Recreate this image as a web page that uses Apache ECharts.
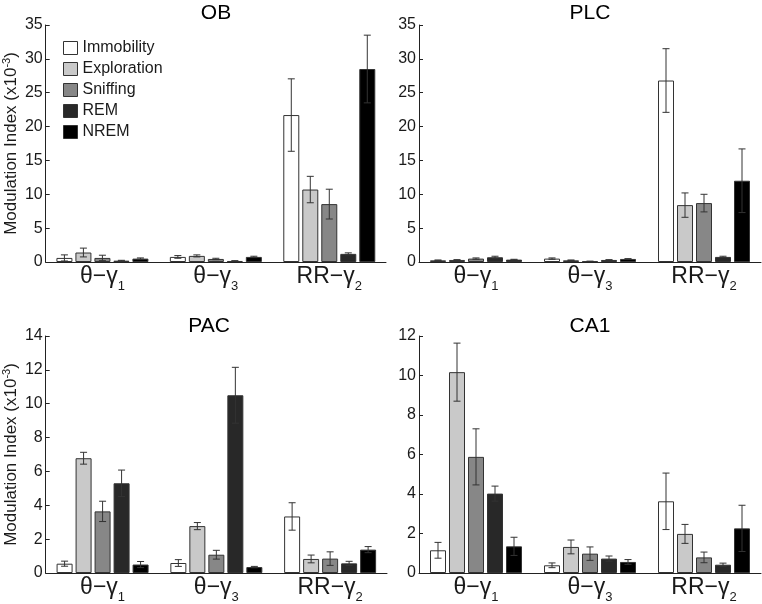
<!DOCTYPE html>
<html><head><meta charset="utf-8">
<script src="https://cdn.jsdelivr.net/npm/echarts@6/dist/echarts.min.js"></script>
<style>html,body{margin:0;padding:0;background:#fff}#c{width:762px;height:604px}</style>
</head><body><div id="c"></div>
<script>
// ---- data ----
const states = ['Immobility', 'Exploration', 'Sniffing', 'REM', 'NREM'];
const stateColors = ['#ffffff', '#c9c9c9', '#878787', '#282828', '#000000'];
const catMain = ['θ−γ', 'θ−γ', 'RR−γ'];
const catSub = ['1', '3', '2'];
const panelTitles = ['OB', 'PLC', 'PAC', 'CA1'];
const yMax = [35, 35, 14, 12];
const yStep = [5, 5, 2, 2];

// rows: Immobility, Exploration, Sniffing, REM, NREM ; cols: θ-γ1, θ-γ3, RR-γ2
const obMeans = [[0.6, 0.75, 21.7], [1.4, 0.9, 10.7], [0.6, 0.45, 8.55], [0.2, 0.15, 1.2], [0.5, 0.75, 28.5]];
const obErrs  = [[0.45, 0.2, 5.35], [0.65, 0.15, 1.95], [0.4, 0.1, 2.2], [0.05, 0.05, 0.15], [0.1, 0.1, 5.0]];
const plcMeans = [[0.25, 0.5, 26.8], [0.3, 0.25, 8.4], [0.5, 0.1, 8.7], [0.7, 0.3, 0.75], [0.35, 0.45, 12.0]];
const plcErrs  = [[0.05, 0.1, 4.7], [0.05, 0.05, 1.8], [0.1, 0.03, 1.3], [0.15, 0.05, 0.1], [0.05, 0.05, 4.7]];
const pacMeans = [[0.55, 0.59, 3.34], [6.78, 2.77, 0.83], [3.64, 1.08, 0.85], [5.3, 10.5, 0.57], [0.5, 0.35, 1.38]];
const pacErrs  = [[0.15, 0.2, 0.81], [0.35, 0.21, 0.23], [0.6, 0.26, 0.4], [0.78, 1.65, 0.12], [0.18, 0.04, 0.18]];
const ca1Means = [[1.15, 0.39, 3.63], [10.17, 1.32, 1.98], [5.88, 0.98, 0.79], [4.02, 0.73, 0.42], [1.35, 0.56, 2.26]];
const ca1Errs  = [[0.4, 0.12, 1.43], [1.47, 0.35, 0.48], [1.42, 0.34, 0.27], [0.38, 0.13, 0.08], [0.46, 0.12, 1.17]];

const panelMeans = [obMeans, plcMeans, pacMeans, ca1Means];
const panelErrs = [obErrs, plcErrs, pacErrs, ca1Errs];

// ---- layout / style ----
const FONT = '"Liberation Sans", Arial, sans-serif';
const TXT = '#1a1a1a';
const AX = '#222';
const grids = [
  {left: 44, top: 25, width: 342, height: 237},
  {left: 419, top: 25, width: 342, height: 237},
  {left: 45, top: 336, width: 342, height: 237},
  {left: 419, top: 336, width: 342, height: 237}
];
const titlePos = [[216, 3], [590, 3], [209, 316], [590, 316]];
const BAR_W = 16;
const BAR_GAP = 0.1875;
const PITCH = BAR_W * (1 + BAR_GAP);

const chart = echarts.init(document.getElementById('c'), null, {renderer: 'canvas'});

const xAxes = [], yAxes = [], series = [], titles = [];
for (let p = 0; p < 4; p++) {
  titles.push({
    text: panelTitles[p], left: titlePos[p][0], top: titlePos[p][1], textAlign: 'center', padding: 0,
    textStyle: {fontFamily: FONT, fontSize: 21, fontWeight: 'normal', color: '#000'}
  });
  xAxes.push({
    type: 'category', gridIndex: p, data: catMain.map((m, k) => m + '|' + catSub[k]),
    axisLine: {lineStyle: {color: AX, width: 1}}, axisTick: {show: false},
    axisLabel: {
      margin: 3, interval: 0,
      formatter: v => { const s = v.split('|'); return '{m|' + s[0] + '}{s|' + s[1] + '}'; },
      rich: {
        m: {fontFamily: FONT, fontSize: 23, lineHeight: 23, color: TXT, verticalAlign: 'top'},
        s: {fontFamily: FONT, fontSize: 13, lineHeight: 13, color: TXT, verticalAlign: 'top', padding: [15, 0, 0, 0]}
      }
    }
  });
  const left = (p % 2 === 0);
  yAxes.push({
    type: 'value', gridIndex: p, min: 0, max: yMax[p], interval: yStep[p],
    name: left ? 'Modulation Index (x10{sup|-3})' : '',
    nameLocation: 'middle', nameGap: 23, nameRotate: 90,
    nameTextStyle: {
      fontFamily: FONT, fontSize: 17, color: TXT, lineHeight: 20,
      rich: {sup: {fontFamily: FONT, fontSize: 11, lineHeight: 11, verticalAlign: 'top', color: TXT}}
    },
    axisLine: {show: true, lineStyle: {color: AX, width: 1}},
    axisTick: {show: true, inside: true, length: 4, lineStyle: {color: AX}},
    axisLabel: {margin: 3, fontFamily: FONT, fontSize: 16, color: TXT},
    splitLine: {show: false}
  });
  for (let i = 0; i < states.length; i++) {
    series.push({
      type: 'bar', name: states[i], xAxisIndex: p, yAxisIndex: p,
      data: panelMeans[p][i], barWidth: BAR_W, barGap: (BAR_GAP * 100) + '%',
      itemStyle: {color: stateColors[i], borderColor: '#333', borderWidth: 1},
      emphasis: {disabled: true}, animation: false
    });
    const off = (i - 2) * PITCH;
    series.push({
      type: 'custom', name: states[i], xAxisIndex: p, yAxisIndex: p, z: 5,
      data: panelMeans[p][i].map((v, k) => [k, v, panelErrs[p][i][k]]),
      animation: false, silent: true,
      renderItem: function (params, api) {
        const k = api.value(0), v = api.value(1), e = api.value(2);
        const hi = api.coord([k, v + e]);
        const lo = api.coord([k, Math.max(v - e, 0)]);
        const x = hi[0] + off;
        const cap = 3.5;
        const st = {stroke: '#333', lineWidth: 1};
        return {type: 'group', children: [
          {type: 'line', shape: {x1: x, y1: hi[1], x2: x, y2: lo[1]}, style: st},
          {type: 'line', shape: {x1: x - cap, y1: hi[1], x2: x + cap, y2: hi[1]}, style: st},
          {type: 'line', shape: {x1: x - cap, y1: lo[1], x2: x + cap, y2: lo[1]}, style: st}
        ]};
      }
    });
  }
}

chart.setOption({
  backgroundColor: '#fff',
  animation: false,
  title: titles,
  legend: {
    data: states, orient: 'vertical', left: 58, top: 35, itemGap: 5,
    itemWidth: 14, itemHeight: 13, icon: 'rect',
    itemStyle: {borderColor: '#333', borderWidth: 1},
    textStyle: {fontFamily: FONT, fontSize: 16, color: TXT},
    selectedMode: false
  },
  grid: grids,
  xAxis: xAxes,
  yAxis: yAxes,
  series: series
});
</script></body></html>
